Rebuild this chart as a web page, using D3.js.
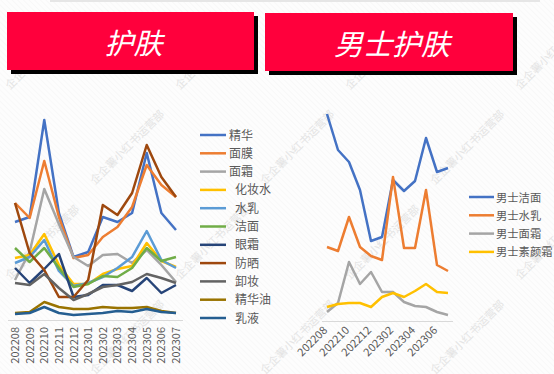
<!DOCTYPE html>
<html>
<head>
<meta charset="utf-8">
<script src="https://cdn.jsdelivr.net/npm/d3@7"></script>
<style>
  body { margin: 0; background: #fff; }
  text { font-family: "Noto Sans CJK SC", "Liberation Sans", sans-serif; }
</style>
</head>
<body>
<div id="container"></div>
<script>
let w = 554;
let h = 374;

// DATA
let months = ["202208","202209","202210","202211","202212","202301","202302","202303","202304","202305","202306","202307"];

// 护肤 (left)
let skinNames = ["精华","面膜","面霜","化妆水","水乳","洁面","眼霜","防晒","卸妆","精华油","乳液"];
let skinColors = ["#4472C4","#ED7D31","#A5A5A5","#FFC000","#5B9BD5","#70AD47","#264478","#9E480E","#636363","#997300","#255E91"];
let jinghua   = [98, 103, 200, 107, 63, 68, 103, 98, 107, 167, 107, 90];
let mianmo    = [117, 102, 159, 103, 62, 65, 83, 93, 113, 155, 135, 123];
let mianshuang= [40, 68, 131, 96, 63, 54, 65, 66, 57, 70, 55, 38];
let huazhuangshui = [62, 65, 86, 55, 36, 36, 46, 51, 54, 77, 59, 53];
let shuiru    = [57, 63, 80, 49, 34, 37, 43, 52, 63, 89, 60, 52];
let jiemian   = [72, 58, 72, 52, 33, 36, 44, 43, 52, 72, 59, 63];
let yanshuang = [52, 37, 51, 66, 23, 25, 35, 35, 29, 42, 27, 35];
let fangshai  = [117, 67, 50, 23, 23, 40, 115, 105, 127, 175, 143, 123];
let xiezhuang = [37, 35, 46, 32, 20, 26, 33, 35, 38, 46, 42, 37];
let jinghuayou= [7, 8, 18, 13, 11, 11, 13, 12, 12, 13, 9, 7];
let ruye      = [6, 7, 13, 7, 5, 6, 7, 9, 8, 11, 8, 7];
let skinSeries = [jinghua, mianmo, mianshuang, huazhuangshui, shuiru, jiemian, yanshuang, fangshai, xiezhuang, jinghuayou, ruye];

// 男士护肤 (right)
let menNames = ["男士洁面","男士水乳","男士面霜","男士素颜霜"];
let menColors = ["#4472C4","#ED7D31","#A5A5A5","#FFC000"];
let menJiemian = [207, 171, 159, 131, 80, 84, 141, 130, 140, 183, 149, 153];
let menShuiru  = [74, 70, 104, 74, 65, 61, 144, 73, 73, 131, 56, 50];
let menMianshuang = [9, 18, 59, 37, 49, 29, 29, 19, 15, 14, 9, 6];
let menSuyan   = [14, 17, 18, 18, 14, 24, 28, 24, 30, 37, 29, 28];
let menSeries = [menJiemian, menShuiru, menMianshuang, menSuyan];
let menTicks = ["202208","202210","202212","202302","202304","202306"];

let watermark = "企企薯小红书运营部";

// SVG
let viz = d3.select("#container").append("svg")
    .attr("width", w)
    .attr("height", h)
    .style("display", "block")
;

// faint hatch background
let defs = viz.append("defs");
let pat = defs.append("pattern")
    .attr("id", "hatch")
    .attr("width", 4).attr("height", 4)
    .attr("patternUnits", "userSpaceOnUse")
    .attr("patternTransform", "rotate(-45)");
pat.append("rect").attr("width", 4).attr("height", 4).attr("fill", "#fdfdfd");
pat.append("line").attr("x1", 0).attr("y1", 0).attr("x2", 0).attr("y2", 4)
    .attr("stroke", "#f3f3f3").attr("stroke-width", 1);
viz.append("rect").attr("width", w).attr("height", h).attr("fill", "url(#hatch)");

// top shadow strip
viz.append("rect").attr("x", 50).attr("y", 0).attr("width", 490).attr("height", 2).attr("fill", "#e6e6e6");

// watermarks, tiled across the page like in the original
let wmPos = [];
for (let r = -1; r < 5; r++) {
  for (let c = -1; c < 6; c++) {
    wmPos.push([c * 170 + (r % 2) * 85 + 10, r * 95 + 90]);
  }
}
viz.selectAll(".wm").data(wmPos).enter()
  .append("text")
    .attr("class", "wm")
    .attr("transform", d => "translate(" + d[0] + "," + d[1] + ") rotate(-45)")
    .attr("font-size", 11)
    .attr("fill", "#e4e4e4")
    .text(watermark)
;

// BANNERS
let banners = [
  {x: 7, y: 12, w: 247, h: 58, label: "护肤"},
  {x: 265, y: 13, w: 248, h: 58, label: "男士护肤"}
];
banners.forEach(function(b) {
  viz.append("rect").attr("x", b.x + 4).attr("y", b.y + 4).attr("width", b.w).attr("height", b.h).attr("fill", "#000");
  viz.append("rect").attr("x", b.x).attr("y", b.y).attr("width", b.w).attr("height", b.h).attr("fill", "#FF003C");
  viz.append("text")
    .attr("x", b.x + b.w / 2 + 3)
    .attr("y", b.y + 42)
    .attr("text-anchor", "middle")
    .attr("font-size", 29)
    .attr("font-style", "italic")
    .attr("fill", "#fff")
    .text(b.label);
});

// LEFT CHART
let xL = d3.scalePoint().domain(months).range([15, 176]);
let yL = d3.scaleLinear().domain([0, 200]).range([320, 120]);
let lineL = d3.line()
    .x((d, i) => xL(months[i]))
    .y(d => yL(d));

viz.append("line")
    .attr("x1", 8).attr("x2", 183).attr("y1", 320.5).attr("y2", 320.5)
    .attr("stroke", "#d9d9d9").attr("stroke-width", 1);

viz.selectAll(".skin").data(skinSeries).enter()
  .append("path")
    .attr("class", "skin")
    .attr("d", lineL)
    .attr("fill", "none")
    .attr("stroke", (d, i) => skinColors[i])
    .attr("stroke-width", 2.5)
    .attr("stroke-linejoin", "round")
;

viz.selectAll(".xlabL").data(months).enter()
  .append("text")
    .attr("class", "xlabL")
    .attr("transform", d => "translate(" + (xL(d) + 4) + ",327) rotate(-90)")
    .attr("text-anchor", "end")
    .attr("font-family", "Liberation Sans, Arial, sans-serif")
    .attr("font-size", 11)
    .attr("fill", "#595959")
    .text(d => d)
;

// left legend
let legL = viz.selectAll(".legL").data(skinNames).enter()
  .append("g")
    .attr("class", "legL")
    .attr("transform", (d, i) => "translate(0," + (135 + i * 18.3) + ")");
legL.append("line")
    .attr("x1", 200).attr("x2", 226)
    .attr("stroke", (d, i) => skinColors[i])
    .attr("stroke-width", 2.5);
legL.append("text")
    .attr("x", (d, i) => i < 3 ? 229 : 235)
    .attr("y", 4.5)
    .attr("font-size", 12)
    .attr("fill", "#595959")
    .text(d => d);

// RIGHT CHART
let xR = d3.scalePoint().domain(months).range([327, 448]);
let yR = d3.scaleLinear().domain([0, 207]).range([321, 114]);
let lineR = d3.line()
    .x((d, i) => xR(months[i]))
    .y(d => yR(d));

viz.append("line")
    .attr("x1", 322).attr("x2", 453).attr("y1", 321.5).attr("y2", 321.5)
    .attr("stroke", "#d9d9d9").attr("stroke-width", 1);

viz.selectAll(".men").data(menSeries).enter()
  .append("path")
    .attr("class", "men")
    .attr("d", lineR)
    .attr("fill", "none")
    .attr("stroke", (d, i) => menColors[i])
    .attr("stroke-width", 2.5)
    .attr("stroke-linejoin", "round")
;

viz.selectAll(".xlabR").data(menTicks).enter()
  .append("text")
    .attr("class", "xlabR")
    .attr("transform", d => "translate(" + (xR(d) + 1) + ",331) rotate(-45)")
    .attr("text-anchor", "end")
    .attr("font-family", "Liberation Sans, Arial, sans-serif")
    .attr("font-size", 11)
    .attr("fill", "#595959")
    .text(d => d)
;

let legR = viz.selectAll(".legR").data(menNames).enter()
  .append("g")
    .attr("class", "legR")
    .attr("transform", (d, i) => "translate(0," + (197 + i * 18.3) + ")");
legR.append("line")
    .attr("x1", 469).attr("x2", 494)
    .attr("stroke", (d, i) => menColors[i])
    .attr("stroke-width", 2.5);
legR.append("text")
    .attr("x", 496)
    .attr("y", 4.5)
    .attr("font-size", 11.3)
    .attr("fill", "#595959")
    .text(d => d);
</script>
</body>
</html>
